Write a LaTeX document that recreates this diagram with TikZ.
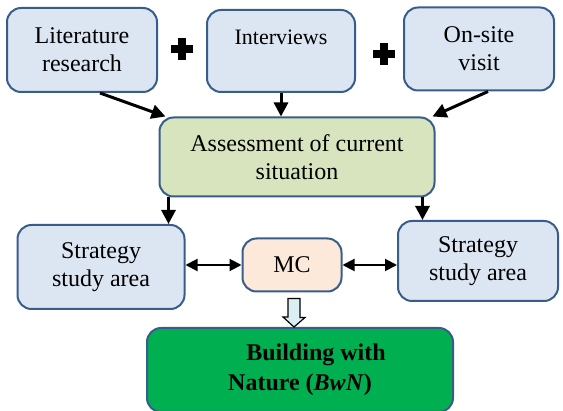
\documentclass[tikz,border=0pt]{standalone}
\usepackage{fontspec}
\setmainfont{Liberation Serif}
\newfontfamily\boxfont{Liberation Serif}
\usetikzlibrary{arrows.meta,calc}
\definecolor{boxline}{HTML}{385D8A}
\definecolor{bluefill}{HTML}{DCE6F2}
\definecolor{greenfill}{HTML}{D7E4BD}
\definecolor{peachfill}{HTML}{FDE9D9}
\definecolor{bwnfill}{HTML}{00B050}
\definecolor{arrowfill}{HTML}{DBEEF4}
\tikzset{
  box/.style={draw=boxline,line width=2pt,rounded corners=14pt,align=center,
    inner sep=0pt,font=\boxfont\fontsize{24}{28}\selectfont},
  inbox/.style={box,fill=bluefill},
  flow/.style={line width=3pt,-{Triangle[length=14pt,width=14pt]}},
  link/.style={line width=2pt,{Triangle[length=12pt,width=12pt]}-{Triangle[length=12pt,width=12pt]}},
}
\begin{document}
\begin{tikzpicture}[x=1pt,y=-1pt]
        \useasboundingbox (0,0) rectangle (563,411);
        % sources
        \node[inbox,minimum width=150pt,minimum height=84pt] (lit) at (82,50) {Literature\\research};
        \node[inbox,minimum width=148pt,minimum height=82pt,font=\boxfont\fontsize{22}{28}\selectfont] (intv) at (281,51) {Interviews\\\mbox{}};
        \node[inbox,minimum width=150pt,minimum height=83pt] (site) at (479,49) {On-site\\visit};
        \foreach \px/\py in {182/49,384/54} {
                \draw[line width=8pt] (\px-11,\py) -- (\px+11,\py) (\px,\py-11) -- (\px,\py+11);
            }
        % assessment
        \node[box,fill=greenfill,minimum width=275pt,minimum height=79pt] (assess) at (297,157) {Assessment of current\\situation};
        \draw[flow] ($(lit.south)+(18,0)$) -- ($(assess.north west)+(7,0)$);
        \draw[flow] (intv.south) -- (intv.south |- assess.north);
        \draw[flow] ($(site.south)+(9,0)$) -- ($(assess.north east)+(-3,0)$);
        % strategies
        \node[inbox,minimum width=167pt,minimum height=84pt] (stratL) at (101,267) {Strategy\\study area};
        \node[box,fill=peachfill,minimum width=99pt,minimum height=53pt] (mc) at (292,265) {MC};
        \node[inbox,minimum width=160pt,minimum height=80pt] (stratR) at (478,261) {Strategy\\study area};
        \coordinate (aL) at ($(assess.south west)+(10,0)$);
        \coordinate (aR) at ($(assess.south east)+(-13,0)$);
        \draw[flow] (aL) -- (aL |- stratL.north);
        \draw[flow] (aR) -- (aR |- stratR.north);
        \draw[link] (mc.west -| stratL.east) -- (mc.west);
        \draw[link] (mc.east) -- (mc.east -| stratR.west);
        % result
        \node[box,fill=bwnfill,minimum width=306pt,minimum height=84pt,font=\boxfont\fontsize{24}{30}\bfseries] (bwn) at (300,370) {\hspace*{32pt}Building with\\Nature (\textit{BwN})};
        \draw[line width=1.2pt,fill=arrowfill] ($(mc.south)+(-4,6)$) -- ++(12,0) -- ++(0,19) -- ++(5,0)
            -- ($(bwn.north)+(-6,0)$) -- ++(-11,-10) -- ++(5,0) -- cycle;
    \end{tikzpicture}
\end{document}
